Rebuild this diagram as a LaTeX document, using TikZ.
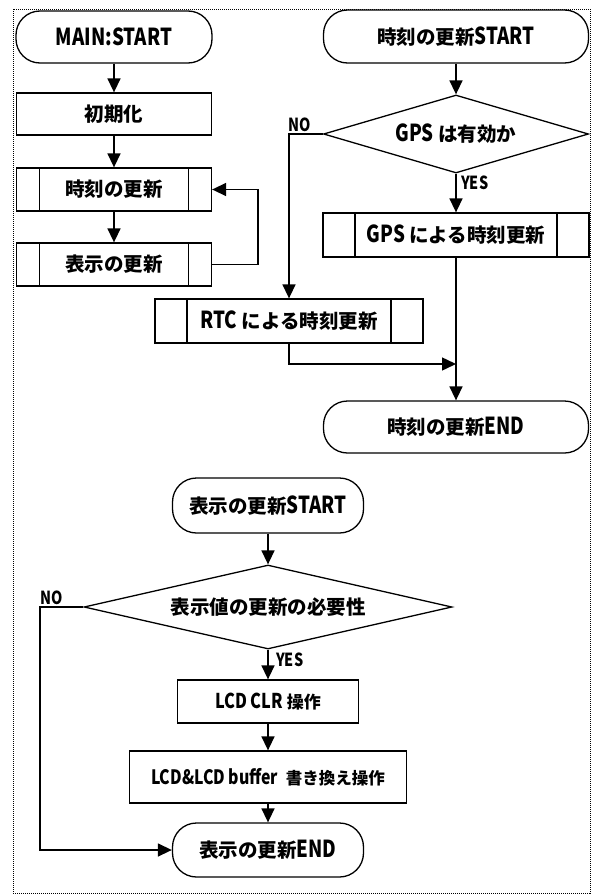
\documentclass[tikz,border=0pt]{standalone}
\usepackage{fontspec}
\setmainfont{Noto Sans CJK JP}
\newfontfamily\latf{Noto Sans CJK JP}[FakeStretch=0.8, Scale=1.2]
\newcommand\latx[1]{{\latf #1}}
\usetikzlibrary{arrows.meta,shapes.geometric}
\begin{document}
\begin{tikzpicture}[x=1pt,y=-1pt,
 base/.style={draw, line width=1.3pt, inner sep=0pt, align=center, font=\bfseries\fontsize{19.5}{22}\selectfont},
 term/.style={base, rounded corners=24pt},
 proc/.style={base},
 subp/.style={base, path picture={
   \draw[line width=1.3pt] ([xshift=#1]path picture bounding box.north west) -- ([xshift=#1]path picture bounding box.south west);
   \draw[line width=1.3pt] ([xshift=-#1]path picture bounding box.north east) -- ([xshift=-#1]path picture bounding box.south east);}},
 dec/.style={base, diamond, aspect=3},
 arr/.style={line width=1.5pt, -{Triangle[length=14pt,width=13pt]}},
 lab/.style={font=\bfseries\latf\fontsize{15}{18}\selectfont, inner sep=0pt}
]
\useasboundingbox (0,0) rectangle (592,894);
\draw[line width=1pt, dash pattern=on 1pt off 1pt] (13,9) rectangle (590,893);

% main
\node[term, minimum width=196pt, minimum height=52pt] (ms) at (114,37) {\latx{MAIN:START}};
\node[proc, minimum width=195pt, minimum height=42pt] (init) at (114,114) {初期化};
\node[subp=23pt, minimum width=195pt, minimum height=43pt] (tupd) at (114,189.5) {時刻の更新};
\node[subp=23pt, minimum width=195pt, minimum height=43pt] (dupd) at (114,264.5) {表示の更新};
\draw[arr] (ms.south) -- (init.north);
\draw[arr] (init.south) -- (tupd.north);
\draw[arr] (tupd.south) -- (dupd.north);
\draw[arr] (dupd.east) -- ++(46,0) |- (tupd.east);

% time update
\node[term, minimum width=265pt, minimum height=53pt] (ts) at (456,36.5) {時刻の更新\latx{START}};
\node[dec, minimum width=265pt, minimum height=78pt] (gps) at (456,134) {\latx{GPS} は有効か};
\node[subp=32pt, minimum width=266pt, minimum height=44pt] (gbox) at (456,235) {\latx{GPS} による時刻更新};
\node[subp=32pt, minimum width=268pt, minimum height=44pt] (rtc) at (289,321) {\latx{RTC} による時刻更新};
\node[term, minimum width=265pt, minimum height=52pt] (tend) at (456,427) {時刻の更新\latx{END}};
\node[lab, anchor=south west] (no1) at (288,132) {NO};
\node[lab, anchor=north west] (yes1) at (461,176) {YES};
\coordinate (j1) at (456,364);
\draw[arr] (ts.south) -- (gps.north);
\draw[arr] (gps.south) -- (gbox.north);
\draw[arr] (gbox.south) -- (tend.north);
\draw[arr] (gps.west) -| (rtc.north);
\draw[arr] (rtc.south) |- (j1);

% display update
\node[term, minimum width=191pt, minimum height=55pt] (ds) at (268,505.5) {表示の更新\latx{START}};
\node[dec, minimum width=368pt, minimum height=84pt] (need) at (268,607) {表示値の更新の必要性};
\node[proc, minimum width=181pt, minimum height=43pt, font=\bfseries\fontsize{17}{20}\selectfont] (clr) at (268,701.5) {\latx{LCD CLR} 操作};
\node[proc, minimum width=277pt, minimum height=52pt, font=\bfseries\fontsize{16.5}{20}\selectfont] (buf) at (268,777) {\latx{LCD\&LCD buffer}\ \ 書き換え操作};
\node[term, minimum width=191pt, minimum height=54pt] (de) at (268,850) {表示の更新\latx{END}};
\node[lab, anchor=south west] (no2) at (40,605) {NO};
\node[lab, anchor=north west] (yes2) at (276,653) {YES};
\draw[arr] (ds.south) -- (need.north);
\draw[arr] (need.south) -- (clr.north);
\draw[arr] (clr.south) -- (buf.north);
\draw[arr] (buf.south) -- (de.north);
\draw[arr] (need.west) -- (40,607) |- (de.west);
\end{tikzpicture}
\end{document}
